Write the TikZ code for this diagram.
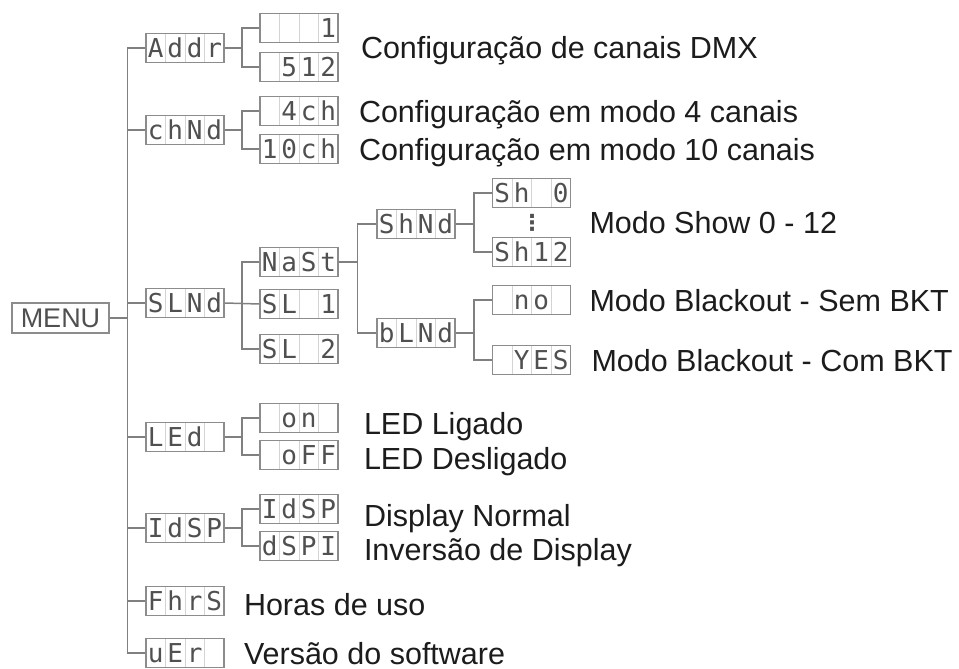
\documentclass[tikz,border=0pt]{standalone}
\usepackage{fontspec}
\setmainfont{Liberation Sans}
\newfontfamily\lcdfamily{DejaVu Sans Mono}
\newfontfamily\symfamily{DejaVu Sans}
\usepackage{tikz}
\usetikzlibrary{positioning, calc}

\definecolor{wiregray}{RGB}{128,128,128}
\definecolor{boxgray}{RGB}{140,140,140}
\definecolor{cellgray}{RGB}{212,212,212}
\definecolor{seggray}{RGB}{80,80,80}
\definecolor{inkblack}{RGB}{28,28,28}

% four display cells of one LCD box
\newcommand\lcd[4]{\makebox[19.5pt]{#1}\makebox[19.5pt]{#2}\makebox[19.5pt]{#3}\makebox[19.5pt]{#4}}

\begin{document}
\begin{tikzpicture}[
    x=1pt, y=-1pt,
    wire/.style={draw=wiregray, line width=1.5pt},
    lcdbox/.style={
      draw=boxgray, line width=1.6pt, fill=white,
      minimum width=78pt, minimum height=29pt, inner sep=0pt,
      text=seggray, font=\lcdfamily\fontsize{26}{26}\selectfont,
      text height=19pt, text depth=0pt,
      path picture={
        \foreach \f in {0.25,0.5,0.75}
          \draw[cellgray, line width=0.8pt]
            ($(path picture bounding box.south west)!\f!(path picture bounding box.south east)$) --
            ($(path picture bounding box.north west)!\f!(path picture bounding box.north east)$);
      }
    },
    menubox/.style={
      draw=boxgray, line width=1.6pt,
      minimum width=97pt, minimum height=30pt, inner sep=0pt,
      text=seggray, font=\fontsize{27}{27}\selectfont,
      text height=19.5pt, text depth=0pt
    },
    lbl/.style={
      font=\fontsize{30.5}{34}\selectfont, text=inkblack,
      inner sep=0pt, text height=22pt, text depth=0pt, anchor=west
    },
  ]
  \useasboundingbox (0,0) rectangle (959,669);

  \node[menubox] (menu) at (60.5,318) {MENU};

  % first level
  \node[lcdbox] (addr) at (185,48)  {\lcd{A}{d}{d}{r}};
  \node[lcdbox] (chnd) at (185,130) {\lcd{c}{h}{N}{d}};
  \node[lcdbox] (slnd) at (185,303) {\lcd{S}{L}{N}{d}};
  \node[lcdbox] (led)  at (185,437) {\lcd{L}{E}{d}{}};
  \node[lcdbox] (idsp) at (185,528) {\lcd{I}{d}{S}{P}};
  \node[lcdbox] (fhrs) at (185,601) {\lcd{F}{h}{r}{S}};
  \node[lcdbox] (uer)  at (185,653) {\lcd{u}{E}{r}{}};

  % second level
  \node[lcdbox] (dmx1)   at (299,28)  {\lcd{}{}{}{1}};
  \node[lcdbox] (dmx512) at (299,67)  {\lcd{}{5}{1}{2}};
  \node[lcdbox] (ch4)    at (299,111) {\lcd{}{4}{c}{h}};
  \node[lcdbox] (ch10)   at (299,149) {\lcd{1}{0}{c}{h}};
  \node[lcdbox] (mast)   at (299,262) {\lcd{N}{a}{S}{t}};
  \node[lcdbox] (sl1)    at (299,304) {\lcd{S}{L}{}{1}};
  \node[lcdbox] (sl2)    at (299,349) {\lcd{S}{L}{}{2}};
  \node[lcdbox] (ledon)  at (299,418) {\lcd{}{o}{n}{}};
  \node[lcdbox] (ledoff) at (299,455) {\lcd{}{o}{F}{F}};
  \node[lcdbox] (dspn)   at (299,509) {\lcd{I}{d}{S}{P}};
  \node[lcdbox] (dspi)   at (299,546) {\lcd{d}{S}{P}{I}};

  % master branch
  \node[lcdbox] (shnd)  at (416,224)   {\lcd{S}{h}{N}{d}};
  \node[lcdbox] (blnd)  at (416,333)   {\lcd{b}{L}{N}{d}};
  \node[lcdbox] (sh0)   at (531.5,193) {\lcd{S}{h}{}{0}};
  \node[lcdbox] (sh12)  at (531.5,252) {\lcd{S}{h}{1}{2}};
  \node[lcdbox] (bkno)  at (531.5,300) {\lcd{}{n}{o}{}};
  \node[lcdbox] (bkyes) at (531.5,360) {\lcd{}{Y}{E}{S}};
  \node[text=seggray, inner sep=0pt, font=\symfamily\bfseries\fontsize{22}{22}\selectfont] (dots) at (532,223) {⋮};

  % trunk
  \coordinate (trunk) at ($(menu.east)!.5!(addr.west |- menu.east)$);
  \draw[wire] (menu.east) -- (trunk);
  \draw[wire] (addr.west) -| (trunk) |- (uer.west);
  \foreach \n in {chnd, slnd, led, idsp, fhrs}
    \draw[wire] (\n.west) -- (\n.west -| trunk);

  % forks
  \foreach \p/\a/\b in {addr/dmx1/dmx512, chnd/ch4/ch10, led/ledon/ledoff,
                        idsp/dspn/dspi, mast/shnd/blnd, shnd/sh0/sh12, blnd/bkno/bkyes} {
    \draw[wire] (\p.east) -- ($(\p.east)!.5!(\a.west |- \p.east)$);
    \draw[wire] (\a.west) -| ($(\p.east)!.5!(\a.west |- \p.east)$) |- (\b.west);
  }
  \draw[wire] (slnd.east) -- (sl1.west);
  \draw[wire] (mast.west) -| ($(slnd.east)!.5!(mast.west |- slnd.east)$) |- (sl2.west);

  % labels
  \node[lbl, xshift=22pt] (tdmx) at ($(dmx1.east)!.5!(dmx512.east)$) {Configuração de canais DMX};
  \node[lbl, right=20pt of ch4]  (tch4)  {Configuração em modo 4 canais};
  \node[lbl, right=20pt of ch10] (tch10) {Configuração em modo 10 canais};
  \node[lbl, xshift=18pt] (tshow) at ($(sh0.east)!.5!(sh12.east)$) {Modo Show 0 - 12};
  \node[lbl, right=18pt of bkno]  (tsem) {Modo Blackout - Sem BKT};
  \node[lbl, right=20pt of bkyes] (tcom) {Modo Blackout - Com BKT};
  \node[lbl, right=25pt of ledon, yshift=-5pt]  (ton)  {LED Ligado};
  \node[lbl, right=25pt of ledoff, yshift=-3pt] (toff) {LED Desligado};
  \node[lbl, right=25pt of dspn, yshift=-6pt]   (tnorm) {Display Normal};
  \node[lbl, right=25pt of dspi, yshift=-3pt]   (tinv)  {Inversão de Display};
  \node[lbl, right=19pt of fhrs, yshift=-3pt]   (thrs)  {Horas de uso};
  \node[lbl, right=19pt of uer]                 (tver)  {Versão do software};
\end{tikzpicture}
\end{document}
